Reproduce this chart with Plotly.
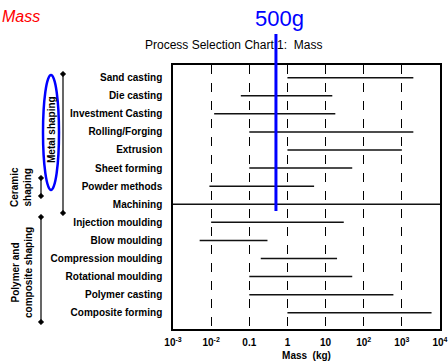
import plotly.graph_objects as go

processes = ["Sand casting", "Die casting", "Investment Casting", "Rolling/Forging",
             "Extrusion", "Sheet forming", "Powder methods", "Machining",
             "Injection moulding", "Blow moulding", "Compression moulding",
             "Rotational moulding", "Polymer casting", "Composite forming"]
mass_min = [1, 0.06, 0.012, 0.1, 1, 0.1, 0.009, 0.001, 0.01, 0.005, 0.2, 0.1, 0.1, 1]
mass_max = [2000, 15, 18, 2000, 1000, 50, 5, 10000, 30, 0.3, 20, 50, 600, 6000]
tick_vals = [1e-3, 1e-2, 1e-1, 1, 10, 100, 1000, 10000]
tick_text = ["10<sup>-3</sup>", "10<sup>-2</sup>", "0.1", "1", "10",
             "10<sup>2</sup>", "10<sup>3</sup>", "10<sup>4</sup>"]
marker_mass = 0.5  # 500 g

W, H = 448, 364
L, R, T, B = 173, 8, 65, 35
PW, PH = W - L - R, H - T - B

def px(x):
    return (x - L) / PW

def py(y):
    return (H - B - y) / PH

FONT = "Liberation Sans, Arial, sans-serif"

fig = go.Figure()
xs, ys = [], []
for p, lo, hi in zip(processes, mass_min, mass_max):
    xs += [lo, hi, None]
    ys += [p, p, None]
fig.add_trace(go.Scatter(x=xs, y=ys, mode="lines", line=dict(color="#111111", width=1.5),
                         hoverinfo="skip", showlegend=False))

fig.update_xaxes(type="log", range=[-3, 4], tickvals=tick_vals, ticktext=tick_text,
                 showgrid=True, gridcolor="black", griddash="dash", gridwidth=1,
                 showline=True, linecolor="black", linewidth=1.5, mirror=True,
                 ticks="", ticklabelstandoff=3, automargin=False,
                 tickfont=dict(family=FONT, size=10, color="black", weight="bold"),
                 title=dict(text="Mass\u00a0\u00a0(kg)", standoff=5,
                            font=dict(family=FONT, size=10, color="black", weight="bold")),
                 zeroline=False)
fig.update_yaxes(type="category", categoryorder="array", categoryarray=processes,
                 range=[13.9, -0.7], showgrid=False, showline=True, linecolor="black",
                 linewidth=1.5, mirror=True, ticks="outside", ticklen=7,
                 tickcolor="rgba(0,0,0,0)", automargin=False,
                 tickfont=dict(family=FONT, size=10, color="black", weight="bold"))

shapes = []
# 500 g marker line
shapes.append(dict(type="line", xref="x", yref="paper", x0=marker_mass, x1=marker_mass,
                   y0=py(211), y1=py(34), line=dict(color="blue", width=3)))
# group brackets
def bracket(x, y0, y1):
    shapes.append(dict(type="line", xref="paper", yref="paper", x0=px(x), x1=px(x),
                       y0=py(y0), y1=py(y1), line=dict(color="black", width=1.2)))
    for y in (y0, y1):
        d = 2.8
        path = "M {} {} L {} {} L {} {} L {} {} Z".format(
            px(x), py(y - d), px(x + d), py(y), px(x), py(y + d), px(x - d), py(y))
        shapes.append(dict(type="path", xref="paper", yref="paper", path=path,
                           fillcolor="black", line=dict(color="black", width=0.5)))
bracket(63, 74, 213)
bracket(41, 178, 196)
bracket(41, 217, 322)
# blue ellipse
shapes.append(dict(type="circle", xref="paper", yref="paper", x0=px(43), x1=px(59),
                   y0=py(190), y1=py(75), line=dict(color="blue", width=2.5)))

annotations = [
    dict(text="Metal shaping", x=px(51), y=py(130), textangle=-90),
    dict(text="Ceramic<br>shaping", x=px(21), y=py(187), textangle=-90),
    dict(text="Polymer and<br>composite shaping", x=px(22), y=py(273), textangle=-90),
]
for a in annotations:
    a.update(xref="paper", yref="paper", showarrow=False, xanchor="center", yanchor="middle",
             font=dict(family=FONT, size=10, color="black", weight="bold"))
annotations += [
    dict(text="Process Selection Chart 1:\u00a0 Mass", x=px(233), y=py(45), xref="paper", yref="paper",
         showarrow=False, xanchor="center", yanchor="middle",
         font=dict(family=FONT, size=12, color="black")),
    dict(text="<i>Mass</i>", x=px(0), y=py(16), xref="paper", yref="paper", showarrow=False,
         xanchor="left", yanchor="middle", font=dict(family=FONT, size=16, color="red")),
    dict(text="500g", x=px(279), y=py(19), xref="paper", yref="paper", showarrow=False,
         xanchor="center", yanchor="middle", font=dict(family=FONT, size=22, color="blue")),
]

fig.update_layout(width=W, height=H, margin=dict(l=L, r=R, t=T, b=B, autoexpand=False),
                  plot_bgcolor="white", paper_bgcolor="white",
                  shapes=shapes, annotations=annotations, showlegend=False)

fig.write_html("out.html", config={"displayModeBar": False},
               post_script="document.body.style.margin='0';document.body.style.overflow='hidden';")
